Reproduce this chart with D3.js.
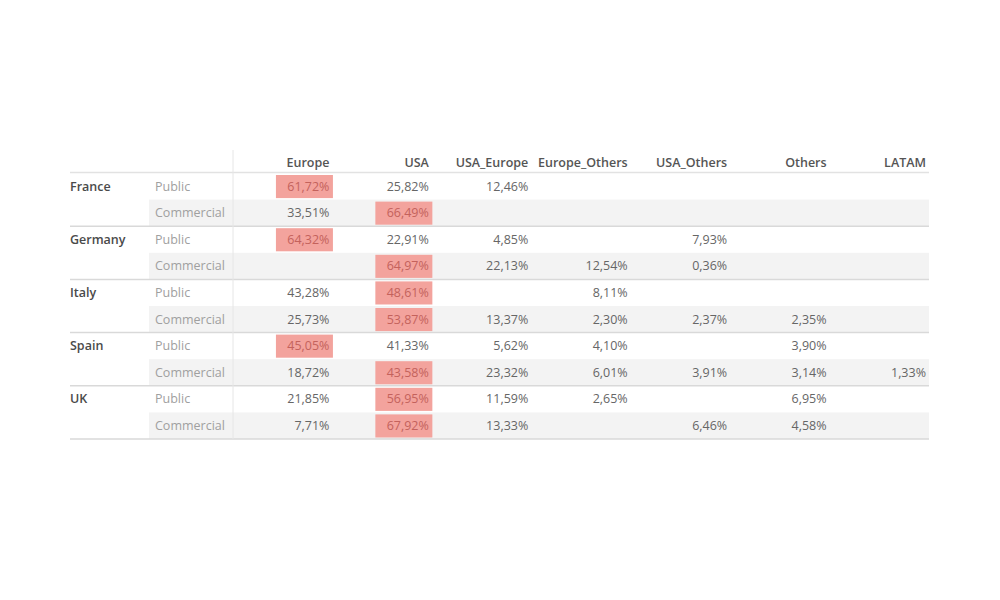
<!DOCTYPE html>
<html>
<head>
<meta charset="utf-8">
<script src="https://cdn.jsdelivr.net/npm/d3@7"></script>
<style>
  html, body { margin: 0; padding: 0; background: #ffffff; }
  svg { display: block; }
  text { font-family: "Open Sans", "Noto Sans", sans-serif; }
</style>
</head>
<body>
<svg id="chart" width="1000" height="600"></svg>
<script>
// ---- data ----
const countries = ["France", "Germany", "Italy", "Spain", "UK"];
const segments = ["Public", "Commercial"];
const regions = ["Europe", "USA", "USA_Europe", "Europe_Others", "USA_Others", "Others", "LATAM"];
// values per region, in row order: France Pub, France Com, Germany Pub, Germany Com, Italy Pub, Italy Com, Spain Pub, Spain Com, UK Pub, UK Com
const europe       = [61.72, 33.51, 64.32, null, 43.28, 25.73, 45.05, 18.72, 21.85, 7.71];
const usa          = [25.82, 66.49, 22.91, 64.97, 48.61, 53.87, 41.33, 43.58, 56.95, 67.92];
const usaEurope    = [12.46, null, 4.85, 22.13, null, 13.37, 5.62, 23.32, 11.59, 13.33];
const europeOthers = [null, null, null, 12.54, 8.11, 2.30, 4.10, 6.01, 2.65, null];
const usaOthers    = [null, null, 7.93, 0.36, null, 2.37, null, 3.91, null, 6.46];
const others       = [null, null, null, null, null, 2.35, 3.90, 3.14, 6.95, 4.58];
const latam        = [null, null, null, null, null, null, null, 1.33, null, null];
const series = [europe, usa, usaEurope, europeOthers, usaOthers, others, latam];

// ---- layout ----
const svg = d3.select("#chart");
const rows = [];
countries.forEach(c => segments.forEach(s => rows.push({country: c, segment: s, key: c + "|" + s})));

const left = 70, rightEdge = 929, colStart = 233;
const x = d3.scaleBand().domain(regions).range([colStart, rightEdge]).padding(0);
const y = d3.scaleBand().domain(rows.map(r => r.key)).range([173, 439]).padding(0);
const bw = x.bandwidth(), bh = y.bandwidth();

const fmt = v => d3.format(".2f")(v).replace(".", ",") + "%";

// commercial row background
svg.append("g").selectAll("rect")
  .data(rows.filter(r => r.segment === "Commercial"))
  .join("rect")
  .attr("x", 149).attr("y", r => y(r.key))
  .attr("width", rightEdge - 149).attr("height", bh)
  .attr("fill", "#f3f3f3");

// header line
svg.append("line").attr("x1", left).attr("x2", rightEdge).attr("y1", 172.5).attr("y2", 172.5)
  .attr("stroke", "#e2e2e2").attr("stroke-width", 1.5);

// group separator lines
svg.append("g").selectAll("line")
  .data(countries)
  .join("line")
  .attr("x1", left).attr("x2", rightEdge)
  .attr("y1", c => y(c + "|Commercial") + bh)
  .attr("y2", c => y(c + "|Commercial") + bh)
  .attr("stroke", "#d9d9d9").attr("stroke-width", 1.5);

// vertical divider
svg.append("line").attr("x1", colStart).attr("x2", colStart).attr("y1", 150).attr("y2", 439)
  .attr("stroke", "#e6e6e6").attr("stroke-width", 1);

// headers
svg.append("g").selectAll("text")
  .data(regions)
  .join("text")
  .attr("x", d => x(d) + bw - 3)
  .attr("y", 162.5)
  .attr("dy", "0.35em")
  .attr("text-anchor", "end")
  .attr("font-size", 12.5)
  .attr("font-weight", 600)
  .attr("fill", "#555")
  .text(d => d);

// country labels
svg.append("g").selectAll("text")
  .data(countries)
  .join("text")
  .attr("x", left)
  .attr("y", c => y(c + "|Public") + bh / 2)
  .attr("dy", "0.35em")
  .attr("font-size", 12.5)
  .attr("font-weight", 600)
  .attr("fill", "#4a4a4a")
  .text(c => c);

// segment labels
svg.append("g").selectAll("text")
  .data(rows)
  .join("text")
  .attr("x", 155)
  .attr("y", r => y(r.key) + bh / 2)
  .attr("dy", "0.35em")
  .attr("font-size", 12.5)
  .attr("fill", "#a0a0a0")
  .text(r => r.segment);

// cells
const cells = [];
rows.forEach((r, i) => {
  const vals = series.map(s => s[i]);
  const mx = d3.max(vals);
  regions.forEach((reg, j) => {
    if (vals[j] != null) cells.push({row: r.key, region: reg, value: vals[j], max: vals[j] === mx});
  });
});

const boxW = 57;
svg.append("g").selectAll("rect")
  .data(cells.filter(c => c.max))
  .join("rect")
  .attr("x", c => x(c.region) + bw + 0.5 - boxW)
  .attr("y", c => y(c.row) + 2)
  .attr("width", boxW)
  .attr("height", bh - 3.5)
  .attr("fill", "#f3a39d");

svg.append("g").selectAll("text")
  .data(cells)
  .join("text")
  .attr("x", c => x(c.region) + bw - 3)
  .attr("y", c => y(c.row) + bh / 2)
  .attr("dy", "0.35em")
  .attr("text-anchor", "end")
  .attr("font-size", 12.5)
  .attr("fill", c => c.max ? "#c4625c" : "#666")
  .text(c => fmt(c.value));
</script>
</body>
</html>
